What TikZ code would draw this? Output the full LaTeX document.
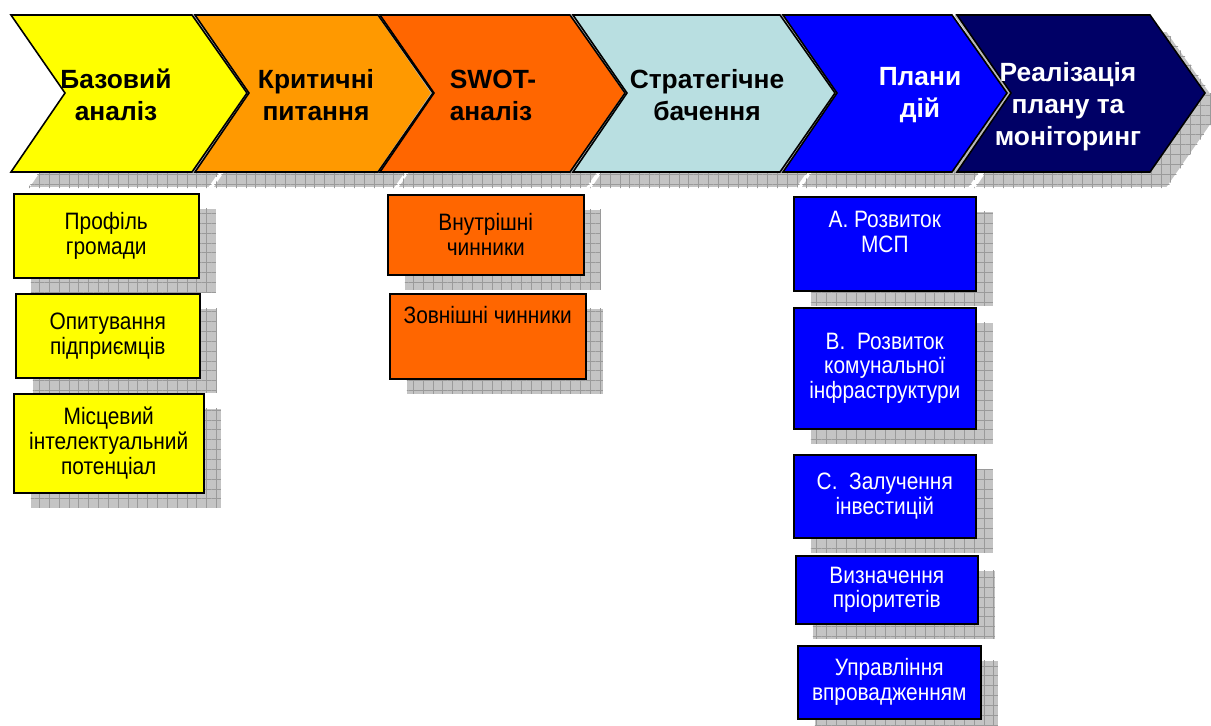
\documentclass[tikz,border=0pt]{standalone}
\usepackage{fontspec}
\setmainfont{Liberation Sans}
\newfontfamily\narrowsans[FakeStretch=0.88]{Liberation Sans}
\usetikzlibrary{patterns.meta,shadows}

\definecolor{baseyellow}{HTML}{FFFF00}
\definecolor{critorange}{HTML}{FF9900}
\definecolor{swotorange}{HTML}{FF6600}
\definecolor{visionblue}{HTML}{B9DFE1}
\definecolor{planblue}{HTML}{0000FF}
\definecolor{realnavy}{HTML}{000066}
\definecolor{shadebg}{HTML}{C4C4C4}
\definecolor{shadeline}{HTML}{9A9A9A}

\tikzset{
  gridshade/.style={pattern={Hatch[distance=5.6pt,angle=0,line width=0.4pt]},pattern color=shadeline},
  chevtext/.style={font=\fontsize{15}{18.2}\selectfont\bfseries,align=center},
  infobox/.style={draw=black,line width=0.9pt,anchor=north west,align=center,
    font=\narrowsans\fontsize{13.5}{14.2}\selectfont,inner sep=0pt,
    general shadow={shadow xshift=0.34cm,shadow yshift=-0.30cm,fill=shadebg},
    general shadow={shadow xshift=0.34cm,shadow yshift=-0.30cm,gridshade}},
}

\begin{document}
\begin{tikzpicture}[x=0.02cm,y=-0.02cm]
    \useasboundingbox (0,0) rectangle (1211,725);
    \clip (0,0) rectangle (1211,725);
    % chevron shadows
    \foreach \l/\r in {11/192,195/378,380/570,573/780,783/952,957/1150} {
        \filldraw[fill=shadebg,draw=white,line width=1pt,shift={(17,16)}]
            (\l,15) -- (\r,15) -- (\r+55,93) -- (\r,172) -- (\l,172) -- (\l+54,93) -- cycle;
        \path[gridshade,shift={(17,16)}]
            (\l,15) -- (\r,15) -- (\r+55,93) -- (\r,172) -- (\l,172) -- (\l+54,93) -- cycle;
    }
    % chevrons
    \foreach \l/\r/\c in {11/192/baseyellow,195/378/critorange,380/570/swotorange,
                          573/780/visionblue,783/952/planblue,957/1150/realnavy} {
        \fill[\c] (\l,15) -- (\r,15) -- (\r+55,93) -- (\r,172) -- (\l,172) -- (\l+54,93) -- cycle;
    }
    \foreach \l in {195,380,573,783,957}
        \draw[gray!55,line width=1.4pt] (\l-1.5,15) -- (\l+52.5,93) -- (\l-1.5,172);
    \foreach \l/\r in {11/192,195/378,380/570,573/780,783/952,957/1150} {
        \draw[black,line width=0.9pt]
            (\l,15) -- (\r,15) -- (\r+55,93) -- (\r,172) -- (\l,172) -- (\l+54,93) -- cycle;
    }
    \node[chevtext] (base) at (116,95) {Базовий\\аналіз};
    \node[chevtext] (crit) at (316,95) {Критичні\\питання};
    \node[chevtext,align=left] (swot) at (493,95) {SWOT-\\аналіз};
    \node[chevtext] (vision) at (707,95) {Стратегічне\\бачення};
    \node[chevtext,text=white] (plans) at (920,95) {Плани\\дій};
    \node[chevtext,text=white] (real) at (1068,107) {Реалізація\\плану та\\моніторинг};
    % baseline analysis
    \node[infobox,fill=baseyellow,minimum width=3.70cm,minimum height=1.68cm] (profile) at (13,193) {Профіль\\громади};
    \node[infobox,fill=baseyellow,minimum width=3.68cm,minimum height=1.68cm] (survey) at (15,293) {Опитування\\підприємців};
    \node[infobox,fill=baseyellow,minimum width=3.80cm,minimum height=1.98cm] (potential) at (13,393) {Місцевий\\інтелектуальний\\потенціал};
    % swot
    \node[infobox,fill=swotorange,minimum width=3.92cm,minimum height=1.60cm] (internal) at (387,194) {Внутрішні\\чинники};
    \node[infobox,fill=swotorange,minimum width=3.92cm,minimum height=1.70cm,text depth=24pt] (external) at (389,293) {Зовнішні чинники};
    % action plans
    \node[infobox,fill=planblue,text=white,minimum width=3.64cm,minimum height=1.88cm,text depth=14pt] (sme) at (793,196) {А. Розвиток\\МСП};
    \node[infobox,fill=planblue,text=white,minimum width=3.64cm,minimum height=2.42cm] (infra) at (793,307) {В.~ Розвиток\\комунальної\\інфраструктури};
    \node[infobox,fill=planblue,text=white,minimum width=3.64cm,minimum height=1.66cm] (invest) at (793,454) {С.~ Залучення\\інвестицій};
    \node[infobox,fill=planblue,text=white,minimum width=3.64cm,minimum height=1.36cm] (priority) at (795,555) {Визначення\\пріоритетів};
    \node[infobox,fill=planblue,text=white,minimum width=3.66cm,minimum height=1.46cm] (manage) at (797,645) {Управління\\впровадженням};
\end{tikzpicture}
\end{document}
